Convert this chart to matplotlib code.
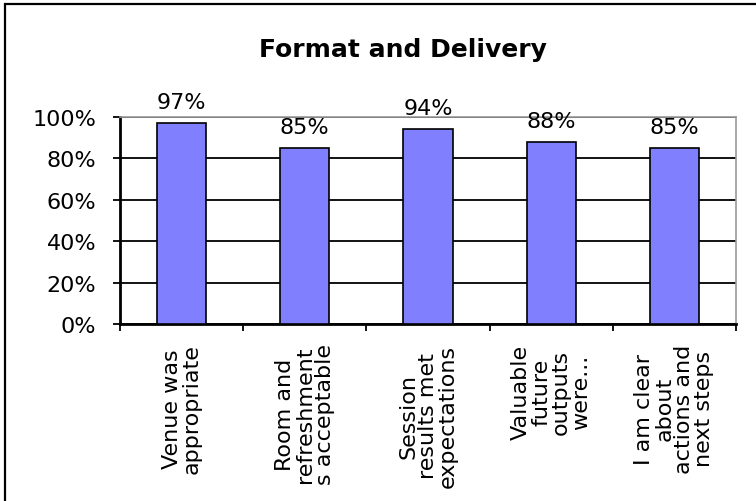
import matplotlib
matplotlib.use("Agg")
import matplotlib.pyplot as plt
import numpy as np
from matplotlib.patches import Rectangle

# data
categories = ["Venue was\nappropriate",
              "Room and\nrefreshment\ns acceptable",
              "Session\nresults met\nexpectations",
              "Valuable\nfuture\noutputs\nwere...",
              "I am clear\nabout\nactions and\nnext steps"]
values = [97, 85, 94, 88, 85]
title = "Format and Delivery"

W, H = 756, 502
fig = plt.figure(figsize=(W / 100, H / 100), dpi=100)
ax = fig.add_axes([120 / W, 1 - 325 / H, (736 - 120) / W, (325 - 118) / H])

x = np.arange(len(values))
ax.bar(x, values, width=0.4, color="#8080FF", edgecolor="black", linewidth=1.2, zorder=3)

ax.set_xlim(-0.5, len(values) - 0.5)
ax.set_ylim(0, 100)
ax.set_yticks(range(0, 101, 20))
ax.set_yticklabels([f"{v}%" for v in range(0, 101, 20)], fontsize=16)
ax.yaxis.grid(True, color="black", linewidth=1.3, zorder=0)

ax.set_xticks(x)
ax.set_xticklabels(categories, rotation=90, fontsize=16, multialignment="center",
                   linespacing=1.0)
ax.set_xticks(np.arange(-0.5, len(values)), minor=True)
ax.tick_params(axis="x", which="major", length=0, pad=14)
ax.tick_params(axis="x", which="minor", length=5, width=1.3, direction="out")
ax.tick_params(axis="y", length=5, width=1.3, direction="out", pad=12)

for s in ["left", "bottom"]:
    ax.spines[s].set_linewidth(2)
    ax.spines[s].set_color("black")
for s in ["top", "right"]:
    ax.spines[s].set_linewidth(1.2)
    ax.spines[s].set_color("#999999")

for xi, v in zip(x, values):
    ax.annotate(f"{v}%", (xi, v), xytext=(0, 8), textcoords="offset points",
                ha="center", va="bottom", fontsize=16)

fig.text(403 / W, 1 - 50 / H, title, ha="center", va="center",
         fontsize=18, fontweight="bold")

# outer chart border (right and bottom edges run past the image)
fig.patches.append(Rectangle((5 / W, -0.1), 1.2, 1 - 5 / H + 0.1,
                             transform=fig.transFigure, fill=False,
                             edgecolor="black", linewidth=1.6))

fig.savefig("out.png", dpi=100)
